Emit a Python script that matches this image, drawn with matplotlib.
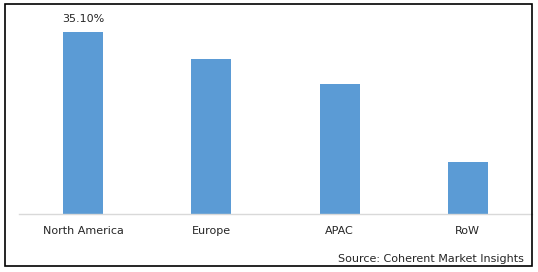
import matplotlib
matplotlib.use("Agg")
import matplotlib.pyplot as plt
from matplotlib.patches import Rectangle

categories = ["North America", "Europe", "APAC", "RoW"]
values = [35.1, 29.9, 25.1, 10.0]
labels = ["35.10%", "", "", ""]
source = "Source: Coherent Market Insights"

W, H = 538, 272
fig = plt.figure(figsize=(W / 100, H / 100), dpi=100)
ax = fig.add_axes([19 / W, 58 / H, (532 - 19) / W, (214 - 10) / H])

x = range(len(categories))
bars = ax.bar(x, values, width=40 / 128, color="#5B9BD5")
ax.set_xlim(-0.5, len(categories) - 0.5)
ax.set_ylim(0, 204 / 5.185)

for b, lab in zip(bars, labels):
    if lab:
        ax.text(b.get_x() + b.get_width() / 2, b.get_height() + 1.6, lab,
                ha="center", va="bottom", fontsize=8, color="#262626")

ax.set_xticks(list(x))
ax.set_xticklabels(categories, fontsize=8, color="#262626")
ax.tick_params(axis="x", length=0, pad=9)
ax.set_yticks([])
for s in ["top", "left", "right"]:
    ax.spines[s].set_visible(False)
ax.spines["bottom"].set_color("#D9D9D9")
ax.spines["bottom"].set_linewidth(1)

fig.patches.append(Rectangle((5 / W, 6 / H), (532 - 5) / W, (268 - 6) / H,
                             transform=fig.transFigure, fill=False,
                             edgecolor="black", linewidth=1.2))
fig.text(524 / W, 1 - 259 / H, source, ha="right", va="center",
         fontsize=8, color="#262626")

fig.savefig("out.png", dpi=100)
